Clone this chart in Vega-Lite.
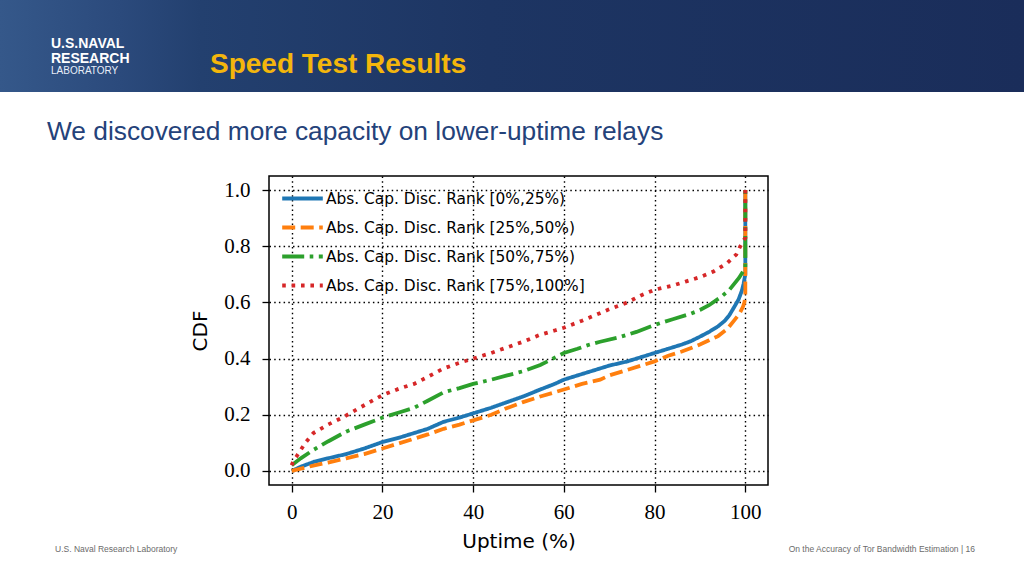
{
  "$schema": "https://vega.github.io/schema/vega-lite/v6.json",
  "background": "white",
  "padding": 0,
  "spacing": 26,
  "config": {"view": {"stroke": null}},
  "vconcat": [
    {
      "bounds": "flush",
      "spacing": 0,
      "hconcat": [
        {
          "width": 200, "height": 92,
          "view": {"stroke": null, "fill": {"gradient": "linear", "x1": 0, "y1": 0, "x2": 1, "y2": 0, "stops": [{"offset": 0, "color": "#35588a"}, {"offset": 0.6, "color": "#2b4a7c"}, {"offset": 1, "color": "#23406f"}]}},
          "data": {"values": []},
          "mark": "point",
          "title": {"text": ["U.S.NAVAL", "RESEARCH"], "subtitle": "LABORATORY", "anchor": "start", "frame": "group", "orient": "top", "dx": 51, "offset": -76, "font": "Liberation Sans", "fontSize": 14, "fontWeight": "bold", "lineHeight": 15, "color": "white", "subtitleFont": "Liberation Sans", "subtitleFontSize": 10, "subtitleColor": "#e8eef8", "subtitlePadding": 0}
        },
        {
          "width": 824, "height": 92,
          "view": {"stroke": null, "fill": {"gradient": "linear", "x1": 0, "y1": 0, "x2": 1, "y2": 0, "stops": [{"offset": 0, "color": "#23406f"}, {"offset": 0.35, "color": "#1d3563"}, {"offset": 1, "color": "#1a2d5a"}]}},
          "data": {"values": []},
          "mark": "point",
          "title": {"text": "Speed Test Results", "anchor": "start", "frame": "group", "orient": "top", "dx": 10, "offset": -79, "font": "Liberation Sans", "fontSize": 28, "fontWeight": "bold", "color": "#f4b60c"}
        }
      ]
    },
    {
      "bounds": "flush",
      "spacing": 0,
      "resolve": {"legend": {"color": "independent", "strokeDash": "independent"}},
      "title": {"text": "We discovered more capacity on lower-uptime relays", "anchor": "start", "frame": "bounds", "orient": "top", "dx": 47, "offset": 30, "font": "Liberation Sans", "fontSize": 26.3, "fontWeight": "normal", "color": "#24427a"},
      "hconcat": [
        {
          "width": 269, "height": 309,
          "data": {"values": []},
          "mark": "point",
          "title": {"text": "U.S. Naval Research Laboratory", "anchor": "start", "frame": "group", "orient": "bottom", "dx": 55, "offset": 60, "font": "Liberation Sans", "fontSize": 8.5, "fontWeight": "normal", "color": "#6b6b6b"}
        },
        {
          "width": 499, "height": 309,
          "view": {"stroke": "black", "strokeWidth": 1.5},
          "data": {"values": [
            {"series": "Abs. Cap. Disc. Rank [0%,25%)", "uptime": 0, "cdf": 0.0},
            {"series": "Abs. Cap. Disc. Rank [0%,25%)", "uptime": 2, "cdf": 0.015},
            {"series": "Abs. Cap. Disc. Rank [0%,25%)", "uptime": 5, "cdf": 0.033},
            {"series": "Abs. Cap. Disc. Rank [0%,25%)", "uptime": 8, "cdf": 0.045},
            {"series": "Abs. Cap. Disc. Rank [0%,25%)", "uptime": 12, "cdf": 0.06},
            {"series": "Abs. Cap. Disc. Rank [0%,25%)", "uptime": 16, "cdf": 0.08},
            {"series": "Abs. Cap. Disc. Rank [0%,25%)", "uptime": 20, "cdf": 0.103},
            {"series": "Abs. Cap. Disc. Rank [0%,25%)", "uptime": 24, "cdf": 0.12},
            {"series": "Abs. Cap. Disc. Rank [0%,25%)", "uptime": 27, "cdf": 0.135},
            {"series": "Abs. Cap. Disc. Rank [0%,25%)", "uptime": 30, "cdf": 0.15},
            {"series": "Abs. Cap. Disc. Rank [0%,25%)", "uptime": 33.5, "cdf": 0.175},
            {"series": "Abs. Cap. Disc. Rank [0%,25%)", "uptime": 37, "cdf": 0.19},
            {"series": "Abs. Cap. Disc. Rank [0%,25%)", "uptime": 40, "cdf": 0.205},
            {"series": "Abs. Cap. Disc. Rank [0%,25%)", "uptime": 44, "cdf": 0.225},
            {"series": "Abs. Cap. Disc. Rank [0%,25%)", "uptime": 47.5, "cdf": 0.245},
            {"series": "Abs. Cap. Disc. Rank [0%,25%)", "uptime": 51, "cdf": 0.265},
            {"series": "Abs. Cap. Disc. Rank [0%,25%)", "uptime": 54.8, "cdf": 0.29},
            {"series": "Abs. Cap. Disc. Rank [0%,25%)", "uptime": 58, "cdf": 0.31},
            {"series": "Abs. Cap. Disc. Rank [0%,25%)", "uptime": 60, "cdf": 0.325},
            {"series": "Abs. Cap. Disc. Rank [0%,25%)", "uptime": 64, "cdf": 0.345},
            {"series": "Abs. Cap. Disc. Rank [0%,25%)", "uptime": 67, "cdf": 0.36},
            {"series": "Abs. Cap. Disc. Rank [0%,25%)", "uptime": 70, "cdf": 0.375},
            {"series": "Abs. Cap. Disc. Rank [0%,25%)", "uptime": 74, "cdf": 0.39},
            {"series": "Abs. Cap. Disc. Rank [0%,25%)", "uptime": 77, "cdf": 0.405},
            {"series": "Abs. Cap. Disc. Rank [0%,25%)", "uptime": 80, "cdf": 0.42},
            {"series": "Abs. Cap. Disc. Rank [0%,25%)", "uptime": 83, "cdf": 0.435},
            {"series": "Abs. Cap. Disc. Rank [0%,25%)", "uptime": 86, "cdf": 0.45},
            {"series": "Abs. Cap. Disc. Rank [0%,25%)", "uptime": 88, "cdf": 0.462},
            {"series": "Abs. Cap. Disc. Rank [0%,25%)", "uptime": 90, "cdf": 0.478},
            {"series": "Abs. Cap. Disc. Rank [0%,25%)", "uptime": 92, "cdf": 0.495},
            {"series": "Abs. Cap. Disc. Rank [0%,25%)", "uptime": 94, "cdf": 0.515},
            {"series": "Abs. Cap. Disc. Rank [0%,25%)", "uptime": 95.5, "cdf": 0.535},
            {"series": "Abs. Cap. Disc. Rank [0%,25%)", "uptime": 96.5, "cdf": 0.555},
            {"series": "Abs. Cap. Disc. Rank [0%,25%)", "uptime": 97.6, "cdf": 0.585},
            {"series": "Abs. Cap. Disc. Rank [0%,25%)", "uptime": 98.5, "cdf": 0.61},
            {"series": "Abs. Cap. Disc. Rank [0%,25%)", "uptime": 99.2, "cdf": 0.64},
            {"series": "Abs. Cap. Disc. Rank [0%,25%)", "uptime": 99.6, "cdf": 0.665},
            {"series": "Abs. Cap. Disc. Rank [0%,25%)", "uptime": 100, "cdf": 0.7},
            {"series": "Abs. Cap. Disc. Rank [0%,25%)", "uptime": 100, "cdf": 1.0},
            {"series": "Abs. Cap. Disc. Rank [25%,50%)", "uptime": 0, "cdf": 0.0},
            {"series": "Abs. Cap. Disc. Rank [25%,50%)", "uptime": 2, "cdf": 0.008},
            {"series": "Abs. Cap. Disc. Rank [25%,50%)", "uptime": 5, "cdf": 0.02},
            {"series": "Abs. Cap. Disc. Rank [25%,50%)", "uptime": 8, "cdf": 0.03},
            {"series": "Abs. Cap. Disc. Rank [25%,50%)", "uptime": 12, "cdf": 0.045},
            {"series": "Abs. Cap. Disc. Rank [25%,50%)", "uptime": 16, "cdf": 0.06},
            {"series": "Abs. Cap. Disc. Rank [25%,50%)", "uptime": 20, "cdf": 0.08},
            {"series": "Abs. Cap. Disc. Rank [25%,50%)", "uptime": 24, "cdf": 0.1},
            {"series": "Abs. Cap. Disc. Rank [25%,50%)", "uptime": 27, "cdf": 0.115},
            {"series": "Abs. Cap. Disc. Rank [25%,50%)", "uptime": 30, "cdf": 0.13},
            {"series": "Abs. Cap. Disc. Rank [25%,50%)", "uptime": 33.5, "cdf": 0.15},
            {"series": "Abs. Cap. Disc. Rank [25%,50%)", "uptime": 37, "cdf": 0.165},
            {"series": "Abs. Cap. Disc. Rank [25%,50%)", "uptime": 40, "cdf": 0.18},
            {"series": "Abs. Cap. Disc. Rank [25%,50%)", "uptime": 44, "cdf": 0.2},
            {"series": "Abs. Cap. Disc. Rank [25%,50%)", "uptime": 47.5, "cdf": 0.224},
            {"series": "Abs. Cap. Disc. Rank [25%,50%)", "uptime": 51, "cdf": 0.245},
            {"series": "Abs. Cap. Disc. Rank [25%,50%)", "uptime": 54.8, "cdf": 0.265},
            {"series": "Abs. Cap. Disc. Rank [25%,50%)", "uptime": 58, "cdf": 0.28},
            {"series": "Abs. Cap. Disc. Rank [25%,50%)", "uptime": 60, "cdf": 0.29},
            {"series": "Abs. Cap. Disc. Rank [25%,50%)", "uptime": 64, "cdf": 0.31},
            {"series": "Abs. Cap. Disc. Rank [25%,50%)", "uptime": 68, "cdf": 0.325},
            {"series": "Abs. Cap. Disc. Rank [25%,50%)", "uptime": 70, "cdf": 0.34},
            {"series": "Abs. Cap. Disc. Rank [25%,50%)", "uptime": 74, "cdf": 0.36},
            {"series": "Abs. Cap. Disc. Rank [25%,50%)", "uptime": 77, "cdf": 0.375},
            {"series": "Abs. Cap. Disc. Rank [25%,50%)", "uptime": 80, "cdf": 0.39},
            {"series": "Abs. Cap. Disc. Rank [25%,50%)", "uptime": 83, "cdf": 0.41},
            {"series": "Abs. Cap. Disc. Rank [25%,50%)", "uptime": 86, "cdf": 0.425},
            {"series": "Abs. Cap. Disc. Rank [25%,50%)", "uptime": 90, "cdf": 0.45},
            {"series": "Abs. Cap. Disc. Rank [25%,50%)", "uptime": 92, "cdf": 0.465},
            {"series": "Abs. Cap. Disc. Rank [25%,50%)", "uptime": 94, "cdf": 0.48},
            {"series": "Abs. Cap. Disc. Rank [25%,50%)", "uptime": 96, "cdf": 0.505},
            {"series": "Abs. Cap. Disc. Rank [25%,50%)", "uptime": 97.6, "cdf": 0.537},
            {"series": "Abs. Cap. Disc. Rank [25%,50%)", "uptime": 98.7, "cdf": 0.56},
            {"series": "Abs. Cap. Disc. Rank [25%,50%)", "uptime": 99.5, "cdf": 0.585},
            {"series": "Abs. Cap. Disc. Rank [25%,50%)", "uptime": 99.8, "cdf": 0.6},
            {"series": "Abs. Cap. Disc. Rank [25%,50%)", "uptime": 100, "cdf": 0.62},
            {"series": "Abs. Cap. Disc. Rank [25%,50%)", "uptime": 100, "cdf": 1.0},
            {"series": "Abs. Cap. Disc. Rank [50%,75%)", "uptime": 0, "cdf": 0.02},
            {"series": "Abs. Cap. Disc. Rank [50%,75%)", "uptime": 2, "cdf": 0.045},
            {"series": "Abs. Cap. Disc. Rank [50%,75%)", "uptime": 4.8, "cdf": 0.075},
            {"series": "Abs. Cap. Disc. Rank [50%,75%)", "uptime": 8, "cdf": 0.105},
            {"series": "Abs. Cap. Disc. Rank [50%,75%)", "uptime": 12, "cdf": 0.14},
            {"series": "Abs. Cap. Disc. Rank [50%,75%)", "uptime": 16, "cdf": 0.165},
            {"series": "Abs. Cap. Disc. Rank [50%,75%)", "uptime": 20, "cdf": 0.19},
            {"series": "Abs. Cap. Disc. Rank [50%,75%)", "uptime": 24, "cdf": 0.21},
            {"series": "Abs. Cap. Disc. Rank [50%,75%)", "uptime": 27, "cdf": 0.225},
            {"series": "Abs. Cap. Disc. Rank [50%,75%)", "uptime": 30, "cdf": 0.25},
            {"series": "Abs. Cap. Disc. Rank [50%,75%)", "uptime": 33.5, "cdf": 0.28},
            {"series": "Abs. Cap. Disc. Rank [50%,75%)", "uptime": 37, "cdf": 0.295},
            {"series": "Abs. Cap. Disc. Rank [50%,75%)", "uptime": 40, "cdf": 0.31},
            {"series": "Abs. Cap. Disc. Rank [50%,75%)", "uptime": 44, "cdf": 0.325},
            {"series": "Abs. Cap. Disc. Rank [50%,75%)", "uptime": 47.5, "cdf": 0.34},
            {"series": "Abs. Cap. Disc. Rank [50%,75%)", "uptime": 51, "cdf": 0.355},
            {"series": "Abs. Cap. Disc. Rank [50%,75%)", "uptime": 54.8, "cdf": 0.377},
            {"series": "Abs. Cap. Disc. Rank [50%,75%)", "uptime": 57, "cdf": 0.395},
            {"series": "Abs. Cap. Disc. Rank [50%,75%)", "uptime": 60, "cdf": 0.42},
            {"series": "Abs. Cap. Disc. Rank [50%,75%)", "uptime": 63, "cdf": 0.435},
            {"series": "Abs. Cap. Disc. Rank [50%,75%)", "uptime": 65.7, "cdf": 0.45},
            {"series": "Abs. Cap. Disc. Rank [50%,75%)", "uptime": 68, "cdf": 0.46},
            {"series": "Abs. Cap. Disc. Rank [50%,75%)", "uptime": 72, "cdf": 0.475},
            {"series": "Abs. Cap. Disc. Rank [50%,75%)", "uptime": 76, "cdf": 0.495},
            {"series": "Abs. Cap. Disc. Rank [50%,75%)", "uptime": 80, "cdf": 0.52},
            {"series": "Abs. Cap. Disc. Rank [50%,75%)", "uptime": 84, "cdf": 0.54},
            {"series": "Abs. Cap. Disc. Rank [50%,75%)", "uptime": 88, "cdf": 0.56},
            {"series": "Abs. Cap. Disc. Rank [50%,75%)", "uptime": 90, "cdf": 0.573},
            {"series": "Abs. Cap. Disc. Rank [50%,75%)", "uptime": 92, "cdf": 0.59},
            {"series": "Abs. Cap. Disc. Rank [50%,75%)", "uptime": 94.7, "cdf": 0.62},
            {"series": "Abs. Cap. Disc. Rank [50%,75%)", "uptime": 96.5, "cdf": 0.645},
            {"series": "Abs. Cap. Disc. Rank [50%,75%)", "uptime": 98.6, "cdf": 0.687},
            {"series": "Abs. Cap. Disc. Rank [50%,75%)", "uptime": 99.5, "cdf": 0.71},
            {"series": "Abs. Cap. Disc. Rank [50%,75%)", "uptime": 100, "cdf": 0.72},
            {"series": "Abs. Cap. Disc. Rank [50%,75%)", "uptime": 100, "cdf": 1.0},
            {"series": "Abs. Cap. Disc. Rank [75%,100%]", "uptime": 0, "cdf": 0.02},
            {"series": "Abs. Cap. Disc. Rank [75%,100%]", "uptime": 0.5, "cdf": 0.04},
            {"series": "Abs. Cap. Disc. Rank [75%,100%]", "uptime": 1, "cdf": 0.05},
            {"series": "Abs. Cap. Disc. Rank [75%,100%]", "uptime": 3, "cdf": 0.1},
            {"series": "Abs. Cap. Disc. Rank [75%,100%]", "uptime": 4.8, "cdf": 0.135},
            {"series": "Abs. Cap. Disc. Rank [75%,100%]", "uptime": 8, "cdf": 0.165},
            {"series": "Abs. Cap. Disc. Rank [75%,100%]", "uptime": 11.2, "cdf": 0.19},
            {"series": "Abs. Cap. Disc. Rank [75%,100%]", "uptime": 15, "cdf": 0.225},
            {"series": "Abs. Cap. Disc. Rank [75%,100%]", "uptime": 20, "cdf": 0.27},
            {"series": "Abs. Cap. Disc. Rank [75%,100%]", "uptime": 24, "cdf": 0.295},
            {"series": "Abs. Cap. Disc. Rank [75%,100%]", "uptime": 27, "cdf": 0.31},
            {"series": "Abs. Cap. Disc. Rank [75%,100%]", "uptime": 30, "cdf": 0.335},
            {"series": "Abs. Cap. Disc. Rank [75%,100%]", "uptime": 33.5, "cdf": 0.365},
            {"series": "Abs. Cap. Disc. Rank [75%,100%]", "uptime": 37, "cdf": 0.385},
            {"series": "Abs. Cap. Disc. Rank [75%,100%]", "uptime": 40, "cdf": 0.4},
            {"series": "Abs. Cap. Disc. Rank [75%,100%]", "uptime": 44, "cdf": 0.42},
            {"series": "Abs. Cap. Disc. Rank [75%,100%]", "uptime": 47.5, "cdf": 0.44},
            {"series": "Abs. Cap. Disc. Rank [75%,100%]", "uptime": 51, "cdf": 0.46},
            {"series": "Abs. Cap. Disc. Rank [75%,100%]", "uptime": 54.8, "cdf": 0.485},
            {"series": "Abs. Cap. Disc. Rank [75%,100%]", "uptime": 58, "cdf": 0.5},
            {"series": "Abs. Cap. Disc. Rank [75%,100%]", "uptime": 60, "cdf": 0.51},
            {"series": "Abs. Cap. Disc. Rank [75%,100%]", "uptime": 64, "cdf": 0.535},
            {"series": "Abs. Cap. Disc. Rank [75%,100%]", "uptime": 69.6, "cdf": 0.573},
            {"series": "Abs. Cap. Disc. Rank [75%,100%]", "uptime": 74, "cdf": 0.6},
            {"series": "Abs. Cap. Disc. Rank [75%,100%]", "uptime": 77, "cdf": 0.625},
            {"series": "Abs. Cap. Disc. Rank [75%,100%]", "uptime": 80, "cdf": 0.645},
            {"series": "Abs. Cap. Disc. Rank [75%,100%]", "uptime": 84, "cdf": 0.66},
            {"series": "Abs. Cap. Disc. Rank [75%,100%]", "uptime": 87, "cdf": 0.675},
            {"series": "Abs. Cap. Disc. Rank [75%,100%]", "uptime": 90, "cdf": 0.69},
            {"series": "Abs. Cap. Disc. Rank [75%,100%]", "uptime": 93, "cdf": 0.71},
            {"series": "Abs. Cap. Disc. Rank [75%,100%]", "uptime": 96, "cdf": 0.74},
            {"series": "Abs. Cap. Disc. Rank [75%,100%]", "uptime": 98, "cdf": 0.77},
            {"series": "Abs. Cap. Disc. Rank [75%,100%]", "uptime": 98.9, "cdf": 0.8},
            {"series": "Abs. Cap. Disc. Rank [75%,100%]", "uptime": 99.6, "cdf": 0.82},
            {"series": "Abs. Cap. Disc. Rank [75%,100%]", "uptime": 100, "cdf": 0.83},
            {"series": "Abs. Cap. Disc. Rank [75%,100%]", "uptime": 100, "cdf": 1.0}
          ]},
          "mark": {"type": "line", "strokeWidth": 3.8, "strokeCap": "butt", "clip": true},
          "encoding": {
            "x": {"field": "uptime", "type": "quantitative", "title": "Uptime (%)",
                  "scale": {"domain": [-5, 105], "nice": false, "zero": false},
                  "axis": {"values": [0, 20, 40, 60, 80, 100], "format": "d", "domain": false,
                           "grid": true, "gridColor": "black", "gridDash": [1.5, 3.2], "gridWidth": 1.4, "gridOpacity": 1,
                           "ticks": true, "tickColor": "black", "tickSize": 7, "tickWidth": 1.3,
                           "labelFont": "Liberation Serif", "labelFontSize": 21, "labelColor": "black", "labelPadding": 9,
                           "titleFont": "DejaVu Sans", "titleFontSize": 20, "titleFontWeight": "normal", "titleColor": "black", "titlePadding": 9}},
            "y": {"field": "cdf", "type": "quantitative", "title": "CDF",
                  "scale": {"domain": [-0.05, 1.05], "nice": false, "zero": false},
                  "axis": {"values": [0, 0.2, 0.4, 0.6, 0.8, 1.0], "format": ".1f", "domain": false,
                           "grid": true, "gridColor": "black", "gridDash": [1.5, 3.2], "gridWidth": 1.4, "gridOpacity": 1,
                           "ticks": true, "tickColor": "black", "tickSize": 7, "tickWidth": 1.3,
                           "labelFont": "Liberation Serif", "labelFontSize": 21, "labelColor": "black", "labelPadding": 12,
                           "titleFont": "DejaVu Sans", "titleFontSize": 20, "titleFontWeight": "normal", "titleColor": "black", "titlePadding": 13}},
            "color": {"field": "series", "type": "nominal",
                      "scale": {"domain": ["Abs. Cap. Disc. Rank [0%,25%)", "Abs. Cap. Disc. Rank [25%,50%)", "Abs. Cap. Disc. Rank [50%,75%)", "Abs. Cap. Disc. Rank [75%,100%]"],
                                "range": ["#1f77b4", "#ff7f0e", "#2ca02c", "#d62728"]},
                      "legend": {"title": null, "orient": "none", "legendX": 17, "legendY": 6, "padding": 0,
                                 "symbolType": "M-1.4,0H1.4", "symbolSize": 841, "symbolStrokeWidth": 4,
                                 "labelFont": "DejaVu Sans", "labelFontSize": 15.4, "labelColor": "black", "labelOffset": 7,
                                 "rowPadding": 4, "labelLimit": 400}},
            "strokeDash": {"field": "series", "type": "nominal",
                           "scale": {"domain": ["Abs. Cap. Disc. Rank [0%,25%)", "Abs. Cap. Disc. Rank [25%,50%)", "Abs. Cap. Disc. Rank [50%,75%)", "Abs. Cap. Disc. Rank [75%,100%]"],
                                     "range": [[1, 0], [13, 5.5], [22, 5.5, 3.6, 5.5], [3.6, 5.8]]},
                           "legend": {"title": null, "orient": "none", "legendX": 17, "legendY": 6, "padding": 0,
                                      "symbolType": "M-1.4,0H1.4", "symbolSize": 841, "symbolStrokeWidth": 4,
                                      "labelFont": "DejaVu Sans", "labelFontSize": 15.4, "labelColor": "black", "labelOffset": 7,
                                      "rowPadding": 4, "labelLimit": 400}},
            "order": {"field": "cdf", "type": "quantitative"}
          }
        },
        {
          "width": 256, "height": 309,
          "data": {"values": []},
          "mark": "point",
          "title": {"text": "On the Accuracy of Tor Bandwidth Estimation  |  16", "anchor": "end", "frame": "group", "orient": "bottom", "dx": -49, "offset": 60, "font": "Liberation Sans", "fontSize": 8.5, "fontWeight": "normal", "color": "#6b6b6b"}
        }
      ]
    }
  ]
}
